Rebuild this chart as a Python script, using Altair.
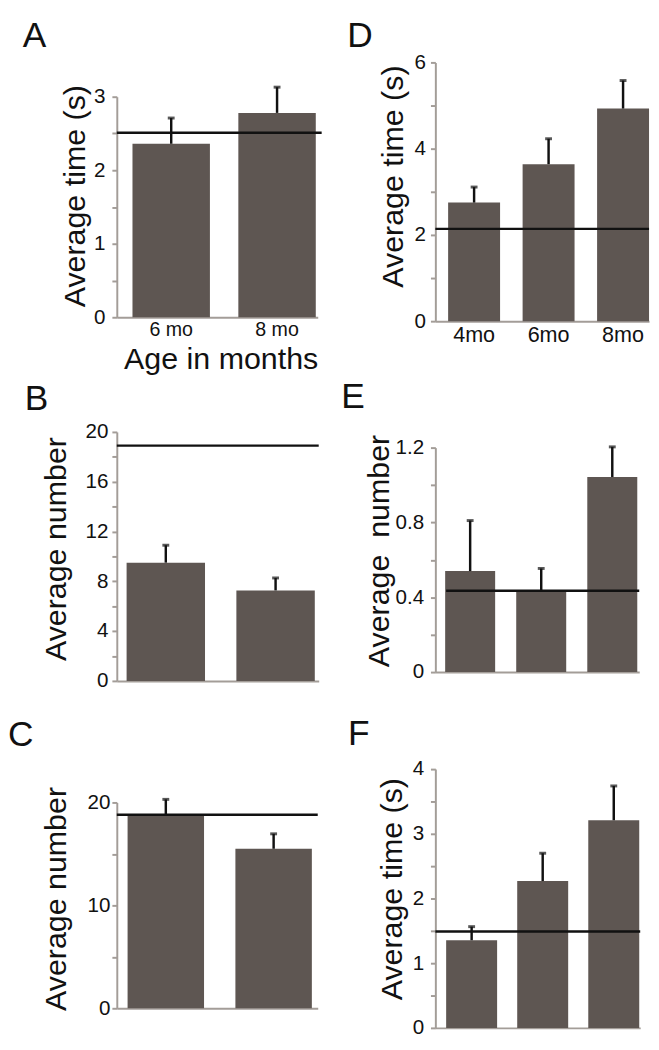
import altair as alt
import pandas as pd

FONT = "Liberation Sans"
BAR = "#5e5652"
AXIS = "#a39d98"
INK = "#111111"

# ---------------- data ----------------
a_cats = ["6 mo", "8 mo"]
a_means = [2.36, 2.78]
a_errs = [0.35, 0.35]
a_ref = 2.51
a_ticks = [0, 0.5, 1, 1.5, 2, 2.5, 3]
a_labeled = [0, 1, 2, 3]

b_cats = ["6 mo", "8 mo"]
b_means = [9.5, 7.27]
b_errs = [1.4, 1.0]
b_ref = 18.9
b_ticks = [0, 2, 4, 6, 8, 10, 12, 14, 16, 18, 20]
b_labeled = [0, 4, 8, 12, 16, 20]

c_cats = ["6 mo", "8 mo"]
c_means = [18.7, 15.5]
c_errs = [1.6, 1.45]
c_ref = 18.8
c_ticks = [0, 5, 10, 15, 20]
c_labeled = [0, 10, 20]

d_cats = ["4mo", "6mo", "8mo"]
d_means = [2.75, 3.64, 4.93]
d_errs = [0.36, 0.59, 0.65]
d_ref = 2.14
d_ticks = [0, 1, 2, 3, 4, 5, 6]
d_labeled = [0, 2, 4, 6]

e_cats = ["4mo", "6mo", "8mo"]
e_means = [0.54, 0.43, 1.043]
e_errs = [0.27, 0.124, 0.161]
e_ref = 0.435
e_ticks = [0, 0.2, 0.4, 0.6, 0.8, 1.0, 1.2]
e_labeled = [0, 0.4, 0.8, 1.2]

f_cats = ["4mo", "6mo", "8mo"]
f_means = [1.355, 2.27, 3.21]
f_errs = [0.21, 0.43, 0.53]
f_ref = 1.49
f_ticks = [0, 0.5, 1, 1.5, 2, 2.5, 3, 3.5, 4]
f_labeled = [0, 1, 2, 3, 4]

LETTER_SIZE = 36


def panel(letter, cats, means, errs, ref, ticks, labeled, ytitle, dom,
          width, height, yrange, xrange, pin, pout, align,
          title_x, title_y, label_pad, letter_xy, ref_x, xaxis):
    df = pd.DataFrame({"cat": cats, "mean": means, "err": errs})
    xs = dict(domain=cats, paddingInner=pin, paddingOuter=pout, align=align)
    if xrange is not None:
        xs["range"] = xrange
    xscale = alt.Scale(**xs)
    yscale = alt.Scale(domain=dom, range=yrange, nice=False, zero=True)
    yaxis = alt.Axis(
        values=ticks,
        labelExpr=f"indexof({labeled}, datum.value) >= 0 ? format(datum.value, '.1~f') : ''",
        title=ytitle, titleX=title_x, titleY=title_y, titleAngle=270,
        titleAlign="center", titleBaseline="middle",
        labelPadding=label_pad, tickSize=5,
    )

    def X():
        return alt.X("cat:N", sort=cats, scale=xscale, axis=xaxis)

    def Y(field):
        return alt.Y(field, scale=yscale, axis=yaxis)

    base = alt.Chart(df)
    bars = base.mark_bar(color=BAR).encode(x=X(), y=Y("mean:Q"))
    whisk = base.transform_calculate(top="datum.mean + datum.err").mark_rule(
        color=INK, strokeWidth=2.5).encode(x=X(), y=Y("mean:Q"), y2="top:Q")
    cap = base.transform_calculate(top="datum.mean + datum.err").mark_tick(
        color=INK, thickness=3, size=7, orient="horizontal").encode(x=X(), y=Y("top:Q"))
    refline = alt.Chart(pd.DataFrame({"ref": [ref]})).mark_rule(
        color=INK, strokeWidth=2.5).encode(
        y=Y("ref:Q"), x=alt.value(ref_x[0]), x2=alt.value(ref_x[1]))
    lab = alt.Chart(pd.DataFrame({"t": [letter]})).mark_text(
        font=FONT, fontSize=LETTER_SIZE, align="left", baseline="alphabetic",
        color=INK).encode(
        text="t:N", x=alt.value(letter_xy[0]), y=alt.value(letter_xy[1]))
    return alt.layer(bars, whisk, cap, refline, lab).properties(width=width, height=height)


hidden_x = alt.Axis(labels=False, ticks=False, title=None)
a_xaxis = alt.Axis(labelAngle=0, labelFontSize=20, ticks=False, tickSize=0,
                   labelPadding=3, title="Age in months", titleFontSize=31,
                   titleX=106, titleY=52, titleAlign="center",
                   titleBaseline="alphabetic")
d_xaxis = alt.Axis(labelAngle=0, labelFontSize=22, ticks=False, tickSize=0,
                   labelPadding=4, title=None)

pA = panel("A", a_cats, a_means, a_errs, a_ref, a_ticks, a_labeled,
           "Average time (s)", [0, 3], 205, 260, [260, 35], None,
           0.2685, 0.0833, 0.889, -42, 136, 7, (-96, -16), (0, 209), a_xaxis)
pD = panel("D", d_cats, d_means, d_errs, d_ref, d_ticks, d_labeled,
           "Average time (s)", [0, 6], 218, 264, [264, 0], None,
           0.3026, 0.0857, 1.0, -43, 116, 5, (-90, -16), (0, 218), d_xaxis)
pB = panel("B", b_cats, b_means, b_errs, b_ref, b_ticks, b_labeled,
           "Average number", [0, 20], 212, 287, [287, 33], [0, 206],
           0.2857, 0.0625, 0.714, -61, 152, 4, (-94, 11), (0, 206), hidden_x)
pE = panel("E", e_cats, e_means, e_errs, e_ref, e_ticks, e_labeled,
           "Average\u00a0\u00a0number", [0, 1.2], 208, 278, [278, 49], None,
           0.2966, 0.0828, 0.833, -57, 154, 7, (-96, 9), (11, 208), hidden_x)
pC = panel("C", c_cats, c_means, c_errs, c_ref, c_ticks, c_labeled,
           "Average number", [0, 20], 205, 254, [254, 44], None,
           0.2909, 0.0773, 0.647, -61, 142, 2, (-111, -14), (0, 205), hidden_x)
pF = panel("F", f_cats, f_means, f_errs, f_ref, f_ticks, f_labeled,
           "Average time (s)", [0, 4], 209, 274, [274, 10], None,
           0.2828, 0.0828, 0.917, -44, 132, 7, (-89, -15), (0, 209), hidden_x)

chart = alt.concat(
    pA, pD, pB, pE, pC, pF, columns=2,
    spacing={"row": 80, "column": 113}, bounds="flush", align="none",
).properties(padding=0, background="white").configure_view(
    stroke=None
).configure_axis(
    grid=False, domainColor=AXIS, tickColor=AXIS, domainWidth=2, tickWidth=2,
    labelFont=FONT, titleFont=FONT, labelColor=INK, titleColor=INK,
    titleFontWeight="normal", labelFontSize=21, titleFontSize=31,
)

chart.save("out.html", embed_options={"renderer": "svg", "actions": False})
